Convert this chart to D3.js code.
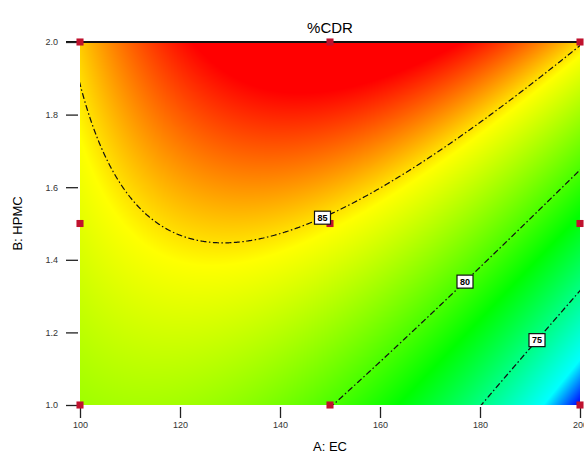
<!DOCTYPE html>
<html>
<head>
<meta charset="utf-8">
<script src="https://cdn.jsdelivr.net/npm/d3@7"></script>
<style>
  body { margin: 0; background: #fff; }
  svg { display: block; font-family: "Liberation Sans", Arial, sans-serif; }
</style>
</head>
<body>
<svg id="chart" width="584" height="455"></svg>
<script>
// quadratic response model for %CDR, coded units: b0, A, B, AB, A^2, B^2
const coefs = [84.77, -3.04, 4.54, 2.96, -3.93, -0.16];
const ecRange = [100, 200];
const hpmcRange = [1.0, 2.0];
const xTicks = [100, 120, 140, 160, 180, 200];
const yTicks = [1.0, 1.2, 1.4, 1.6, 1.8, 2.0];
const levels = [75, 80, 85];
const labelEC = [191.4, 177, 148.5];
const designEC   = [100, 150, 200, 100, 150, 200, 100, 150, 200];
const designHPMC = [1.0, 1.0, 1.0, 1.5, 1.5, 1.5, 2.0, 2.0, 2.0];
const rampColors = ['#0000ff', '#00ffff', '#00ff00', '#ffff00', '#ff0000'];
const rampStops  = [0, 0.1, 0.42, 0.76, 0.94];

function predict(ec, h) {
  const A = (ec - 150) / 50;
  const B = (h - 1.5) / 0.5;
  const [b0, b1, b2, b12, b11, b22] = coefs;
  return b0 + b1 * A + b2 * B + b12 * A * B + b11 * A * A + b22 * B * B;
}

const area = { left: 80, right: 580, top: 42, bottom: 405 };
const pw = area.right - area.left;
const ph = area.bottom - area.top;

const svg = d3.select('#chart');

const x = d3.scaleLinear().domain(ecRange).range([area.left, area.right]);
const y = d3.scaleLinear().domain(hpmcRange).range([area.bottom, area.top]);

// sample the surface once per pixel
const values = new Float64Array(pw * ph);
for (let j = 0; j < ph; j++) {
  for (let i = 0; i < pw; i++) {
    values[i + j * pw] = predict(x.invert(area.left + i + 0.5), y.invert(area.top + j + 0.5));
  }
}
const [vmin, vmax] = d3.extent(values);
const color = d3.scaleLinear()
  .domain(rampStops.map(t => vmin + (vmax - vmin) * t))
  .range(rampColors)
  .clamp(true);

const canvas = document.createElement('canvas');
canvas.width = pw;
canvas.height = ph;
const ctx = canvas.getContext('2d');
const img = ctx.createImageData(pw, ph);
for (let k = 0; k < values.length; k++) {
  const c = d3.rgb(color(values[k]));
  img.data[k * 4] = c.r;
  img.data[k * 4 + 1] = c.g;
  img.data[k * 4 + 2] = c.b;
  img.data[k * 4 + 3] = 255;
}
ctx.putImageData(img, 0, 0);

svg.append('image')
  .attr('x', area.left).attr('y', area.top)
  .attr('width', pw).attr('height', ph)
  .attr('href', canvas.toDataURL());

svg.append('clipPath').attr('id', 'plotclip')
  .append('rect')
  .attr('x', area.left).attr('y', area.top)
  .attr('width', pw).attr('height', ph);

// contour lines: sample a padded grid so ring edges fall outside the clip
const pad = 12;
const cw = pw + 2 * pad, ch = ph + 2 * pad;
const cvalues = new Float64Array(cw * ch);
for (let j = 0; j < ch; j++) {
  for (let i = 0; i < cw; i++) {
    cvalues[i + j * cw] = predict(x.invert(area.left - pad + i + 0.5), y.invert(area.top - pad + j + 0.5));
  }
}
const contours = d3.contours().size([cw, ch]).thresholds(levels)(cvalues);
svg.append('g')
  .attr('clip-path', 'url(#plotclip)')
  .append('g')
  .attr('transform', `translate(${area.left - pad},${area.top - pad})`)
  .selectAll('path')
  .data(contours)
  .join('path')
  .attr('d', d3.geoPath())
  .attr('fill', 'none')
  .attr('stroke', '#111')
  .attr('stroke-width', 1.2)
  .attr('stroke-dasharray', '6,2.5,1.5,2.5');

// top frame line
svg.append('line')
  .attr('x1', area.left - 14).attr('x2', area.right + 2)
  .attr('y1', area.top).attr('y2', area.top)
  .attr('stroke', '#111').attr('stroke-width', 2);

// x axis ticks
const xAxis = svg.append('g')
  .attr('transform', `translate(0,${area.bottom + 2})`)
  .call(d3.axisBottom(x).tickValues(xTicks).tickSize(11).tickPadding(4).tickFormat(d3.format('d')));
xAxis.select('.domain').remove();
xAxis.selectAll('line').attr('stroke', '#222').attr('stroke-width', 1.3);
xAxis.selectAll('text').attr('font-size', 9).attr('fill', '#333');

// y axis ticks
const yAxis = svg.append('g')
  .attr('transform', `translate(${area.left - 2},0)`)
  .call(d3.axisLeft(y).tickValues(yTicks).tickSize(12).tickPadding(8).tickFormat(d3.format('.1f')));
yAxis.select('.domain').remove();
yAxis.selectAll('line').attr('stroke', '#222').attr('stroke-width', 1.3);
yAxis.selectAll('text').attr('font-size', 9).attr('fill', '#333');

// design points
svg.append('g')
  .selectAll('path')
  .data(designEC.map((e, k) => [e, designHPMC[k]]))
  .join('path')
  .attr('transform', d => `translate(${x(d[0])},${y(d[1])})`)
  .attr('d', d3.symbol(d3.symbolSquare, 50))
  .attr('fill', '#c0122e');

// contour labels
function solveHPMC(ec, level) {
  let lo = hpmcRange[0], hi = hpmcRange[1];
  for (let n = 0; n < 40; n++) {
    const mid = (lo + hi) / 2;
    if (predict(ec, mid) < level) lo = mid; else hi = mid;
  }
  return (lo + hi) / 2;
}

const labels = svg.append('g')
  .selectAll('g')
  .data(levels.map((lv, k) => ({ lv, ec: labelEC[k], h: solveHPMC(labelEC[k], lv) })))
  .join('g')
  .attr('transform', d => `translate(${x(d.ec)},${y(d.h)})`);
labels.append('rect')
  .attr('x', -8).attr('y', -6.5).attr('width', 16).attr('height', 13)
  .attr('fill', '#fff').attr('stroke', '#111').attr('stroke-width', 1.2);
labels.append('text')
  .attr('text-anchor', 'middle').attr('dy', '0.35em')
  .attr('font-size', 9).attr('font-weight', 'bold')
  .text(d => d.lv);

// titles
svg.append('text')
  .attr('x', x(150)).attr('y', 33)
  .attr('text-anchor', 'middle').attr('font-size', 15)
  .text('%CDR');
svg.append('text')
  .attr('x', x(150)).attr('y', 451)
  .attr('text-anchor', 'middle').attr('font-size', 13)
  .text('A: EC');
svg.append('text')
  .attr('transform', `translate(22,${y(1.5)}) rotate(-90)`)
  .attr('text-anchor', 'middle').attr('font-size', 13)
  .text('B: HPMC');
</script>
</body>
</html>
